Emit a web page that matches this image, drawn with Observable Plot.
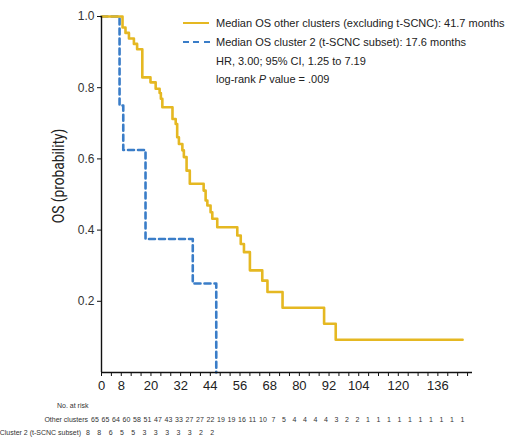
<!DOCTYPE html>
<html><head><meta charset="utf-8">
<script src="https://cdn.jsdelivr.net/npm/d3@7"></script>
<script src="https://cdn.jsdelivr.net/npm/@observablehq/plot@0.6"></script>
<style>
body{margin:0;background:#fff;font-family:"Liberation Sans",Arial,sans-serif;color:#222;}
#wrap{position:relative;width:526px;height:438px;overflow:hidden;}
#chart{position:absolute;left:0;top:0;}
.abs{position:absolute;white-space:nowrap;}
.leg{font-size:11px;color:#222;line-height:12px;}
.risk{font-size:7px;color:#333;line-height:8px;}
</style></head><body>
<div id="wrap"><div id="chart"></div></div>
<script>
// Kaplan–Meier step data (months, survival probability)
const otherTimes = [0, 8.5, 9.7, 11.1, 13.1, 14.4, 16.5, 19.8, 21.9, 23.5, 24.0, 24.6, 28.7, 30.0, 30.6, 31.3, 32.7, 33.3, 34.4, 35.7, 41.3, 42.1, 42.8, 44.1, 44.8, 46.8, 54.9, 56.3, 57.6, 60.0, 65.0, 67.1, 73.2, 90.0, 94.7, 146];
const otherSurv  = [1, 0.969, 0.954, 0.938, 0.923, 0.908, 0.829, 0.815, 0.797, 0.785, 0.769, 0.745, 0.712, 0.698, 0.661, 0.642, 0.624, 0.605, 0.567, 0.530, 0.511, 0.483, 0.469, 0.450, 0.432, 0.408, 0.385, 0.361, 0.338, 0.287, 0.258, 0.226, 0.182, 0.137, 0.092, 0.092];
const c2Times = [0, 7.3, 8.8, 17.8, 36.9, 46.4];
const c2Surv  = [1, 0.75, 0.625, 0.375, 0.25, 0];

const xTickMarks = d3.range(0, 149, 4);
const xTickLabels = [0, 8, 20, 32, 44, 56, 68, 80, 92, 104, 120, 136];
const yTicks = [0.2, 0.4, 0.6, 0.8, 1.0];

const riskOther = [65,65,64,60,58,51,47,43,33,27,27,22,19,19,16,11,10,7,5,4,4,4,4,3,2,2,1,1,1,1,1,1,1,1,1,1];
const riskC2 = [8,8,6,5,5,3,3,3,3,3,2,2];

const legendLines = [
  "Median OS other clusters (excluding t-SCNC): 41.7 months",
  "Median OS cluster 2 (t-SCNC subset): 17.6 months",
  "HR, 3.00; 95% CI, 1.25 to 7.19"
];

const YELLOW = "#e5b822";
const BLUE = "#3a7dc8";

const other = otherTimes.map((t, i) => ({t, s: otherSurv[i]}));
const c2 = c2Times.map((t, i) => ({t, s: c2Surv[i]}));

const plot = Plot.plot({
  width: 526,
  height: 395,
  marginLeft: 101,
  marginRight: 54,
  marginTop: 16,
  marginBottom: 23,
  x: {domain: [0, 150]},
  y: {domain: [0, 1]},
  style: {background: "#fff", overflow: "visible", fontFamily: "'Liberation Sans', Arial, sans-serif"},
  marks: [
    Plot.line(c2, {x: "t", y: "s", curve: "step-after", stroke: BLUE, strokeWidth: 2.6, strokeDasharray: "6,4"}),
    Plot.line(other, {x: "t", y: "s", curve: "step-after", stroke: YELLOW, strokeWidth: 2.6}),
    Plot.ruleY([0], {stroke: "#111", strokeWidth: 1.4}),
    Plot.ruleX([0], {stroke: "#111", strokeWidth: 1.4}),
    Plot.axisX({ticks: xTickMarks, tickSize: 4, tickFormat: () => "", stroke: "#111", label: null}),
    Plot.axisX({ticks: xTickLabels, tickSize: 0, tickPadding: 8, fontSize: 13, fill: "#222", label: null}),
    Plot.axisY({ticks: yTicks, tickSize: 4, tickPadding: 3, fontSize: 12, fill: "#333", stroke: "#111", tickFormat: d3.format(".1f"), label: null})
  ]
});
document.getElementById("chart").appendChild(plot);

const wrap = document.getElementById("wrap");
function addDiv(cls, text, left, top, extra) {
  const d = document.createElement("div");
  d.className = "abs " + cls;
  d.textContent = text;
  d.style.left = left + "px";
  d.style.top = top + "px";
  if (extra) Object.assign(d.style, extra);
  wrap.appendChild(d);
  return d;
}

// Y axis title
addDiv("", "OS (probability)", 58, 176, {fontFamily: "Roboto, sans-serif", fontSize: "16px", color: "#222", transform: "translate(-50%,-50%) rotate(-90deg) scaleX(0.86)"});

// Legend
const legTop = [17, 36, 55, 73];
const sampleY = [23, 42];
const y1 = document.createElement("div");
y1.className = "abs";
Object.assign(y1.style, {left: "183px", top: (sampleY[0] - 1.3) + "px", width: "26px", height: "0", borderTop: "2.6px solid " + YELLOW});
wrap.appendChild(y1);
const b1 = document.createElement("div");
b1.className = "abs";
Object.assign(b1.style, {left: "183px", top: (sampleY[1] - 1.3) + "px", width: "27px", height: "2.6px",
  background: `repeating-linear-gradient(90deg, ${BLUE} 0 6px, transparent 6px 10.5px)`});
wrap.appendChild(b1);
legendLines.forEach((txt, i) => addDiv("leg", txt, 216, legTop[i]));
const pv = addDiv("leg", "", 216, legTop[3]);
pv.innerHTML = "log-rank <i>P</i> value = .009";

// Number at risk
addDiv("risk", "No. at risk", 57, 402);
addDiv("risk", "Other clusters", 88, 416, {transform: "translateX(-100%)"});
addDiv("risk", "Cluster 2 (t-SCNC subset)", 81, 429, {transform: "translateX(-100%)"});
riskOther.forEach((v, i) => addDiv("risk", String(v), 95 + i * 10.5, 416, {transform: "translateX(-50%)"}));
riskC2.forEach((v, i) => addDiv("risk", String(v), 88 + i * 11.3, 429, {transform: "translateX(-50%)"}));
</script>
</body></html>
